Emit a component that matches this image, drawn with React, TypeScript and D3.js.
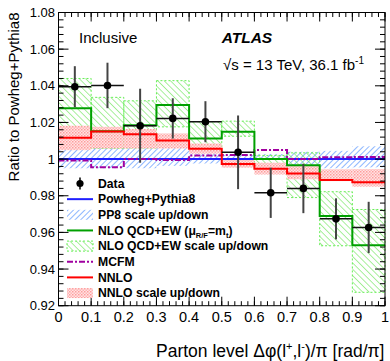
import React from 'react';
import * as d3 from 'd3';

// bin edges (Δφ/π)
const binEdges = [0, 0.1, 0.2, 0.3, 0.4, 0.5, 0.6, 0.7, 0.8, 0.9, 1.0];

// data points and symmetric errors
const dataVals = [1.0395, 1.0402, 1.0182, 1.0222, 1.0204, 1.0037, 0.9816, 0.984, 0.9674, 0.9627];
const dataErr = [0.0112, 0.0124, 0.0202, 0.011, 0.0112, 0.0201, 0.0137, 0.0135, 0.0112, 0.014];

// Powheg+Pythia8 (reference) and its scale band
const powhegVals = [1, 1, 1, 1, 1, 1, 1, 1, 1, 1];
const pp8Up = [1.006, 1.0064, 1.006, 1.006, 1.003, 1.0022, 1.0028, 1.004, 1.0045, 1.007];
const pp8Down = [0.995, 0.995, 0.995, 0.9963, 0.9976, 0.9989, 0.9995, 0.997, 0.995, 0.9955];

// NLO QCD+EW and scale band
const nloVals = [1.0277, 1.0152, 1.0185, 1.0295, 1.0112, 1.0149, 1.0, 0.9967, 0.969, 0.953];
const nloUp = [1.044, 1.0337, 1.0318, 1.0428, 1.0204, 1.0207, 1.002, 1.0034, 0.9822, 0.9725];
const nloDown = [1.0155, 1.0058, 1.006, 1.0176, 1.0064, 1.0125, 0.997, 0.979, 0.9527, 0.9273];

// MCFM
const mcfmVals = [0.9992, 0.9956, 1.0, 0.9995, 1.002, 1.0023, 1.0049, 1.0, 1.001, 1.0012];

// NNLO and scale band
const nnloVals = [1.0117, 1.0151, 1.0136, 1.0102, 1.0057, 0.9973, 0.9947, 0.9922, 0.9886, 0.9874];
const nnloUp = [1.0182, 1.0176, 1.0164, 1.014, 1.0085, 0.9995, 0.998, 0.9962, 0.9944, 0.9945];
const nnloDown = [1.0049, 1.0058, 1.0058, 1.0058, 1.003, 0.9953, 0.9916, 0.989, 0.988, 0.985];

// axis ticks
const yTicks = [0.92, 0.94, 0.96, 0.98, 1, 1.02, 1.04, 1.06, 1.08];
const yTickLabels = ['0.92', '0.94', '0.96', '0.98', '1', '1.02', '1.04', '1.06', '1.08'];
const xTicks = [0, 0.1, 0.2, 0.3, 0.4, 0.5, 0.6, 0.7, 0.8, 0.9, 1];
const xTickLabels = ['0', '0.1', '0.2', '0.3', '0.4', '0.5', '0.6', '0.7', '0.8', '0.9', '1'];

const FONT = '"Liberation Sans", Arial, Helvetica, sans-serif';

const App = () => {
  const width = 390;
  const height = 361;
  const left = 58.5, right = 385, top = 12.5, bottom = 305.7;

  const x = d3.scaleLinear().domain([0, 1]).range([left, right]);
  const y = d3.scaleLinear().domain([0.92, 1.08]).range([bottom, top]);

  const bins = dataVals.map((_, i) => ({ lo: binEdges[i], hi: binEdges[i + 1] }));

  const stepPath = (vals: number[]) => {
    const pts: [number, number][] = vals.map((v, i) => [binEdges[i], v]);
    pts.push([binEdges[binEdges.length - 1], vals[vals.length - 1]]);
    return d3.line<[number, number]>()
      .x(d => x(d[0]))
      .y(d => y(d[1]))
      .curve(d3.curveStepAfter)(pts) || '';
  };

  const band = (up: number[], down: number[], fill: string, extra: any = {}) =>
    bins.map((b, i) => (
      <rect key={i} x={x(b.lo)} y={y(up[i])} width={x(b.hi) - x(b.lo)}
        height={y(down[i]) - y(up[i])} fill={fill} {...extra} />
    ));

  // minor ticks
  const yMinor = d3.range(0, 41).map(i => 0.92 + i * 0.004);
  const xMinor = d3.range(0, 51).map(i => i * 0.02);

  const legendY0 = 183.5, legendDy = 15.65;
  const lx0 = 67, lx1 = 93, ltx = 98;
  const ly = (i: number) => legendY0 + i * legendDy;

  return (
    <div style={{ position: 'absolute', left: 0, top: 0 }}>
      <svg width={width} height={height} style={{ display: 'block', background: '#fff' }} fontFamily={FONT}>
        <defs>
          <pattern id="hatchBlue" patternUnits="userSpaceOnUse" width={4} height={4} patternTransform="rotate(45)">
            <line x1={0} y1={0} x2={0} y2={4} stroke="#5a96ff" strokeWidth={1.4} />
          </pattern>
          <pattern id="hatchGreen" patternUnits="userSpaceOnUse" width={4.5} height={4.5} patternTransform="rotate(-45)">
            <line x1={0} y1={0} x2={0} y2={4.5} stroke="#6ee65a" strokeWidth={1.2} />
          </pattern>
          <pattern id="dotsRed" patternUnits="userSpaceOnUse" width={3} height={3}>
            <rect x={0} y={0} width={3} height={3} fill="#ffe4e4" />
            <rect x={0} y={0} width={1.5} height={1.5} fill="#ff9c9c" />
            <rect x={1.5} y={1.5} width={1.5} height={1.5} fill="#ffb4b4" />
          </pattern>
        </defs>

        {/* bands */}
        {band(pp8Up, pp8Down, 'url(#hatchBlue)')}
        {band(nloUp, nloDown, 'url(#hatchGreen)', { stroke: '#66ee55', strokeWidth: 1, strokeDasharray: '2,2' })}
        {band(nnloUp, nnloDown, 'url(#dotsRed)')}

        {/* lines */}
        <path d={stepPath(powhegVals)} fill="none" stroke="#1f1fff" strokeWidth={2} />
        <path d={stepPath(mcfmVals)} fill="none" stroke="#a000a0" strokeWidth={2} strokeDasharray="6,2,2,2" />
        <path d={stepPath(nloVals)} fill="none" stroke="#00a000" strokeWidth={2} />
        <path d={stepPath(nnloVals)} fill="none" stroke="#ff0000" strokeWidth={2} />

        {/* data */}
        {dataVals.map((v, i) => {
          const cx = x((binEdges[i] + binEdges[i + 1]) / 2);
          return (
            <g key={i}>
              <line x1={cx} x2={cx} y1={y(v + dataErr[i])} y2={y(v - dataErr[i])} stroke="#444" strokeWidth={2} />
              <line x1={x(binEdges[i])} x2={x(binEdges[i + 1])} y1={y(v)} y2={y(v)} stroke="#111" strokeWidth={1.5} />
              <circle cx={cx} cy={y(v)} r={3.8} fill="#000" />
            </g>
          );
        })}

        {/* frame */}
        <rect x={left} y={top} width={right - left} height={bottom - top} fill="none" stroke="#000" strokeWidth={1} />

        {/* ticks */}
        {yTicks.map((t, i) => (
          <g key={'yt' + i}>
            <line x1={left} x2={left + 10} y1={y(t)} y2={y(t)} stroke="#000" />
            <line x1={right} x2={right - 10} y1={y(t)} y2={y(t)} stroke="#000" />
            <text x={55} y={y(t) + 4.6} fontSize={13} textAnchor="end">{yTickLabels[i]}</text>
          </g>
        ))}
        {yMinor.map((t, i) => (
          <g key={'ym' + i}>
            <line x1={left} x2={left + 5} y1={y(t)} y2={y(t)} stroke="#000" />
            <line x1={right} x2={right - 5} y1={y(t)} y2={y(t)} stroke="#000" />
          </g>
        ))}
        {xTicks.map((t, i) => (
          <g key={'xt' + i}>
            <line x1={x(t)} x2={x(t)} y1={bottom} y2={bottom - 9} stroke="#000" />
            <line x1={x(t)} x2={x(t)} y1={top} y2={top + 9} stroke="#000" />
            <text x={x(t)} y={321.7} fontSize={14.5} textAnchor="middle">{xTickLabels[i]}</text>
          </g>
        ))}
        {xMinor.map((t, i) => (
          <g key={'xm' + i}>
            <line x1={x(t)} x2={x(t)} y1={bottom} y2={bottom - 4.5} stroke="#000" />
            <line x1={x(t)} x2={x(t)} y1={top} y2={top + 4.5} stroke="#000" />
          </g>
        ))}

        {/* axis titles */}
        <text transform="translate(18.5,12.5) rotate(-90)" textAnchor="end" fontSize={15}>Ratio to Powheg+Pythia8</text>
        <text x={384.5} y={357} textAnchor="end" fontSize={17.5}>
          Parton level Δφ(l<tspan dy={-7} fontSize={11}>+</tspan><tspan dy={7}>,l</tspan>
          <tspan dy={-7} fontSize={11}>-</tspan><tspan dy={7}>)/π [rad/π]</tspan>
        </text>

        {/* labels */}
        <text x={79} y={42.7} fontSize={15}>Inclusive</text>
        <text x={221.7} y={43.3} fontSize={15.5} fontWeight="bold" fontStyle="italic">ATLAS</text>
        <text x={223} y={70} fontSize={15}>
          √s = 13 TeV, 36.1 fb<tspan dy={-6} fontSize={10}>-1</tspan>
        </text>

        {/* legend */}
        <g fontSize={12.2} fontWeight="bold">
          <line x1={80} x2={80} y1={ly(0) - 6} y2={ly(0) + 6} stroke="#000" strokeWidth={1.5} />
          <circle cx={80} cy={ly(0)} r={3.6} fill="#000" />
          <text x={ltx} y={ly(0) + 4.3}>Data</text>

          <line x1={lx0} x2={lx1} y1={ly(1)} y2={ly(1)} stroke="#1f1fff" strokeWidth={2} />
          <text x={ltx} y={ly(1) + 4.3}>Powheg+Pythia8</text>

          <rect x={lx0} y={ly(2) - 5} width={lx1 - lx0} height={10} fill="url(#hatchBlue)" />
          <text x={ltx} y={ly(2) + 4.3}>PP8 scale up/down</text>

          <line x1={lx0} x2={lx1} y1={ly(3)} y2={ly(3)} stroke="#00a000" strokeWidth={2} />
          <text x={ltx} y={ly(3) + 4.3}>
            NLO QCD+EW (μ<tspan dy={3} fontSize={7.5}>R/F</tspan><tspan dy={-3}>=m</tspan><tspan dy={3} fontSize={7.5}>t</tspan><tspan dy={-3}>)</tspan>
          </text>

          <rect x={lx0} y={ly(4) - 5} width={lx1 - lx0} height={10} fill="url(#hatchGreen)" stroke="#66ee55" strokeWidth={1} strokeDasharray="2,2" />
          <text x={ltx} y={ly(4) + 4.3}>NLO QCD+EW scale up/down</text>

          <line x1={lx0} x2={lx1} y1={ly(5)} y2={ly(5)} stroke="#a000a0" strokeWidth={2} strokeDasharray="6,2,2,2" />
          <text x={ltx} y={ly(5) + 4.3}>MCFM</text>

          <line x1={lx0} x2={lx1} y1={ly(6)} y2={ly(6)} stroke="#ff0000" strokeWidth={2} />
          <text x={ltx} y={ly(6) + 4.3}>NNLO</text>

          <rect x={lx0} y={ly(7) - 5} width={lx1 - lx0} height={10} fill="url(#dotsRed)" />
          <text x={ltx} y={ly(7) + 4.3}>NNLO scale up/down</text>
        </g>
      </svg>
    </div>
  );
};

export default App;
